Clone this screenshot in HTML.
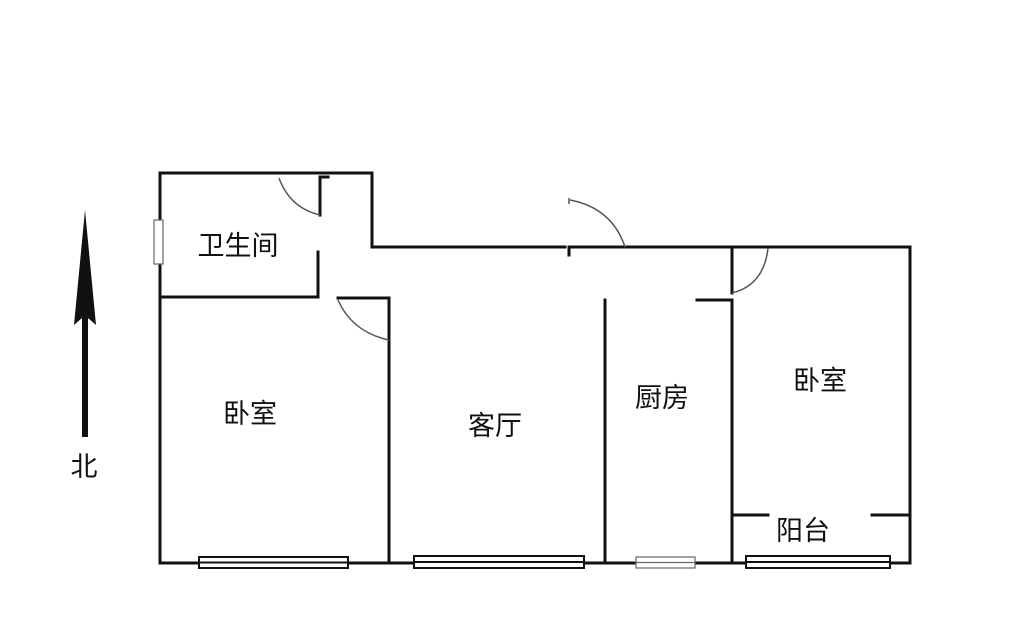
<!DOCTYPE html>
<html><head><meta charset="utf-8"><style>
html,body{margin:0;padding:0;background:#fff;}
svg{display:block;}
text{font-family:"Liberation Sans","Noto Sans CJK SC",sans-serif;fill:#111;}
</style></head><body>
<svg width="1024" height="620" viewBox="0 0 1024 620" xmlns="http://www.w3.org/2000/svg">
<g stroke="#111" stroke-width="3" fill="none" stroke-linecap="square">
<polyline points="160,563 160,173 372,173 372,247 565,247"/>
<line x1="569" y1="247" x2="910" y2="247"/>
<line x1="569" y1="247" x2="569" y2="255"/>
<line x1="910" y1="247" x2="910" y2="563"/>
<line x1="160" y1="563" x2="910" y2="563"/>
<polyline points="160,297 318,297 318,252"/>
<polyline points="320,215 320,177 328,177"/>
<polyline points="338,298 389,298 389,563"/>
<line x1="605" y1="300" x2="605" y2="563"/>
<line x1="732" y1="247" x2="732" y2="293"/>
<polyline points="697,300 732,300 732,563"/>
<line x1="732" y1="515" x2="768" y2="515"/>
<line x1="872" y1="515" x2="910" y2="515"/>
</g>
<g stroke="#555" stroke-width="1.5" fill="none">
<path d="M279,178 Q290,208 320,215"/>
<path d="M570,200 Q612,208 625,247"/>
<line x1="569" y1="198" x2="569" y2="204"/>
<path d="M338,300 Q352,332 389,340"/>
<path d="M768,248 Q764,285 732,293"/>
</g>
<g stroke="#111" stroke-width="2" fill="#fff">
<rect x="199" y="557" width="149" height="11"/>
<line x1="199" y1="562.5" x2="348" y2="562.5"/>
<rect x="414" y="556" width="170" height="12"/>
<line x1="414" y1="562" x2="584" y2="562"/>
<rect x="746" y="556" width="144" height="12"/>
<line x1="746" y1="562" x2="890" y2="562"/>
</g>
<g stroke="#666" stroke-width="1.2" fill="#fff">
<rect x="636" y="557" width="59" height="11"/>
<line x1="636" y1="562.5" x2="695" y2="562.5"/>
<rect x="154" y="220" width="9" height="44"/>
</g>
<polygon points="85,210 96,325 88,318 88,437 82,437 82,318 74,325" fill="#111"/>
<g font-size="27">
<text x="84" y="476" text-anchor="middle">北</text>
<text x="238" y="255" text-anchor="middle">卫生间</text>
<text x="250" y="423" text-anchor="middle">卧室</text>
<text x="495" y="435" text-anchor="middle">客厅</text>
<text x="662" y="407" text-anchor="middle">厨房</text>
<text x="820" y="390" text-anchor="middle">卧室</text>
<text x="803" y="540" text-anchor="middle">阳台</text>
</g>
</svg>
</body></html>
